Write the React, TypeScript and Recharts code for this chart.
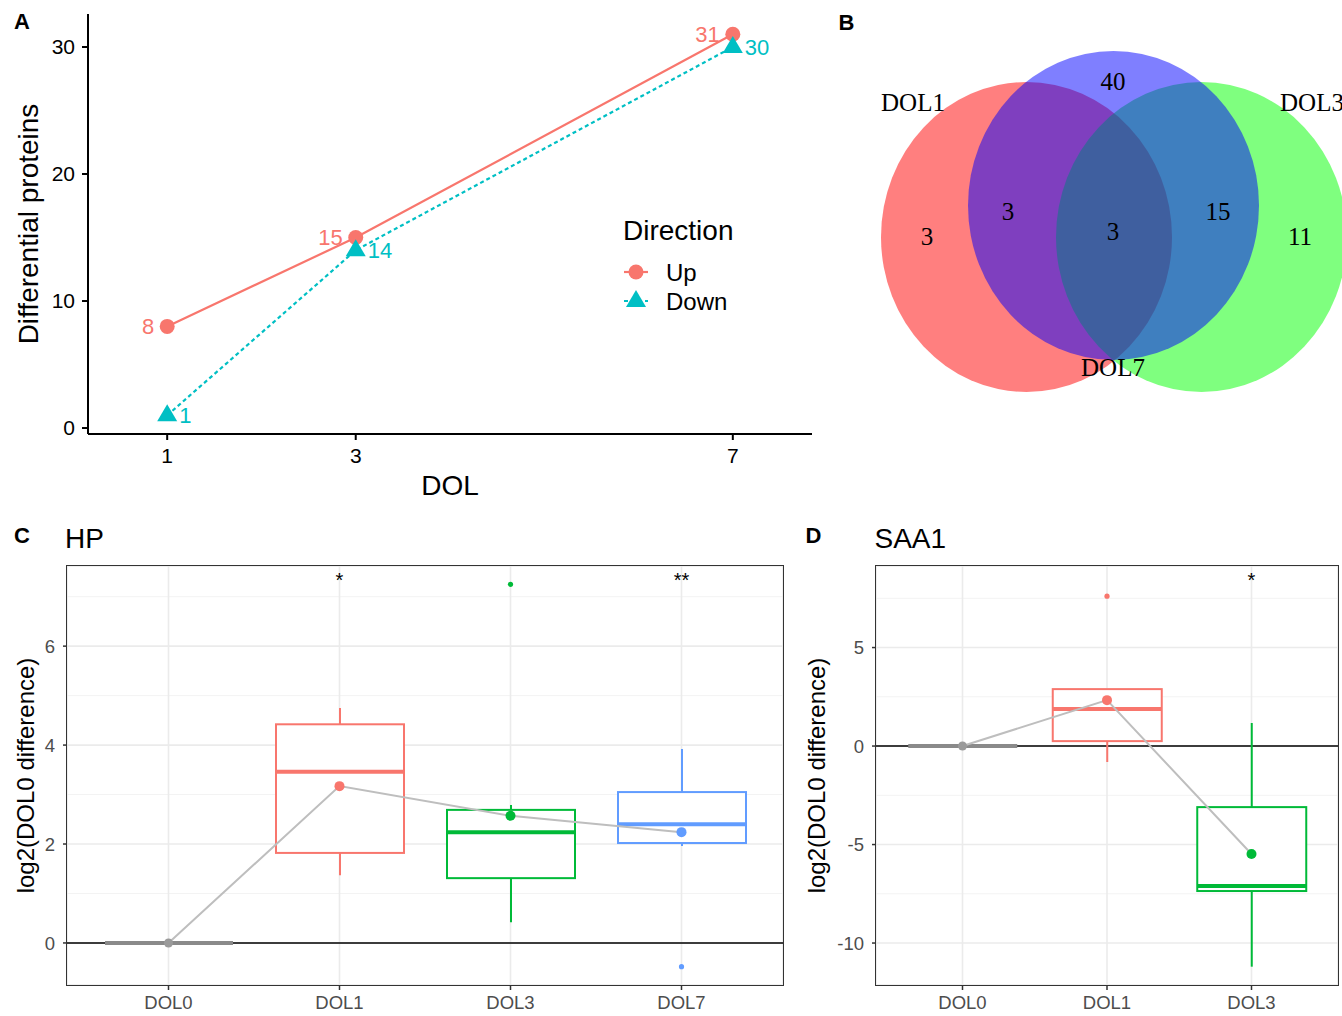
import React from "react";
import {
  Bar,
  CartesianGrid,
  ComposedChart,
  LabelList,
  Legend,
  Line,
  LineChart,
  Scatter,
  ScatterChart,
  XAxis,
  YAxis,
} from "recharts";

const SANS = "'Liberation Sans', Arial, Helvetica, sans-serif";
const SERIF = "'Liberation Serif', 'Times New Roman', serif";
const UP = "#F8766D";
const DOWN = "#00BFC4";

// A: differential proteins per day of life
const directions = ["Up", "Down"];
const dolDays = [1, 3, 7];
const upCounts = [8, 15, 31];
const downCounts = [1, 14, 30];
const countTicks = [0, 10, 20, 30];

// B: venn of the three days (layout units = panel pixels)
const vennSets = ["DOL1", "DOL3", "DOL7"];
const vennFill = ["#FF0000", "#00FF00", "#0000FF"];
const vennX = [186.5, 361.5, 273.5];
const vennY = [237, 237, 205.5];
const vennRx = [145.5, 145.5, 145.5];
const vennRy = [155, 155, 154.5];
const vennLabelX = [73, 472, 273];
const vennLabelY = [103, 103, 368];
const vennCounts = [3, 3, 3, 15, 11, 40];
const vennCountX = [87, 168, 273, 378, 460, 273];
const vennCountY = [237, 212, 232, 212, 237, 82];

// C: HP
const hpGroups = ["DOL0", "DOL1", "DOL3", "DOL7"];
const hpLow = [0, 1.37, 0.42, 1.96];
const hpQ1 = [0, 1.82, 1.31, 2.02];
const hpMedian = [0, 3.46, 2.24, 2.4];
const hpQ3 = [0, 4.42, 2.69, 3.05];
const hpHigh = [0, 4.75, 2.79, 3.92];
const hpMean = [0, 3.17, 2.57, 2.24];
const hpOutlier = [null, null, 7.25, -0.48];
const hpSig = ["", "*", "", "**"];
const hpTicks = [0, 2, 4, 6];
const hpMinor = [1, 3, 5, 7];

// D: SAA1
const saaGroups = ["DOL0", "DOL1", "DOL3"];
const saaLow = [0, -0.81, -11.2];
const saaQ1 = [0, 0.25, -7.36];
const saaMedian = [0, 1.88, -7.1];
const saaQ3 = [0, 2.89, -3.1];
const saaHigh = [0, 2.89, 1.17];
const saaMean = [0, 2.33, -5.48];
const saaOutlier = [null, 7.61, null];
const saaSig = ["", "", "*"];
const saaTicks = [-10, -5, 0, 5];
const saaMinor = [-7.5, -2.5, 2.5, 7.5];

const groupColor: Record<string, string> = {
  DOL0: "#8A8A8A",
  DOL1: "#F8766D",
  DOL3: "#00BA38",
  DOL7: "#619CFF",
};

const countRows = dolDays.map((d, i) => ({ dol: d, up: upCounts[i], down: downCounts[i] }));

const vennCircles = vennSets.map((s, i) => ({
  name: s, x: vennX[i], y: vennY[i], rx: vennRx[i], ry: vennRy[i], fill: vennFill[i],
}));
const vennSetLabels = vennSets.map((s, i) => ({ label: s, x: vennLabelX[i], y: vennLabelY[i] }));
const vennCountLabels = vennCounts.map((c, i) => ({ label: String(c), x: vennCountX[i], y: vennCountY[i] }));

function boxRows(groups, low, q1, med, q3, high, mean, outlier, sig, sigLevel) {
  return groups.map((g, i) => ({
    group: g,
    range: [low[i], high[i]],
    low: low[i],
    q1: q1[i],
    median: med[i],
    q3: q3[i],
    high: high[i],
    mean: mean[i],
    outlier: outlier[i],
    sig: sig[i],
    sigY: sig[i] ? sigLevel : null,
  }));
}

const hpRows = boxRows(hpGroups, hpLow, hpQ1, hpMedian, hpQ3, hpHigh, hpMean, hpOutlier, hpSig, 7.42);
const saaRows = boxRows(saaGroups, saaLow, saaQ1, saaMedian, saaQ3, saaHigh, saaMean, saaOutlier, saaSig, 8.63);

function CircleDot(p: any) {
  if (p.cx == null || p.cy == null) return <g key={`c-${p.index}`} />;
  return <circle key={`c-${p.index}`} cx={p.cx} cy={p.cy} r={7.5} fill={UP} />;
}

function TriangleDot(p: any) {
  if (p.cx == null || p.cy == null) return <g key={`t-${p.index}`} />;
  const { cx, cy } = p;
  return (
    <polygon
      key={`t-${p.index}`}
      points={`${cx},${cy - 11} ${cx - 10},${cy + 6} ${cx + 10},${cy + 6}`}
      fill={DOWN}
    />
  );
}

const UpLabel = (p: any) => (
  <text x={p.x - 13} y={p.y} dy="0.35em" textAnchor="end" fill={UP} fontSize={22} fontFamily={SANS}>
    {p.value}
  </text>
);

const DownLabel = (p: any) => (
  <text x={p.x + 12} y={p.y} dy="0.35em" textAnchor="start" fill={DOWN} fontSize={22} fontFamily={SANS}>
    {p.value}
  </text>
);

function DirectionLegend(props: any) {
  const items = [...(props.payload || [])].sort(
    (a: any, b: any) => directions.indexOf(a.value) - directions.indexOf(b.value)
  );
  return (
    <svg width={160} height={110} style={{ display: "block", overflow: "visible" }}>
      <text x={11} y={30} fontSize={28} fontFamily={SANS} fill="#000">Direction</text>
      {items.map((it: any, i: number) => {
        const cy = 62 + i * 29;
        const isUp = it.value === "Up";
        return (
          <g key={it.value}>
            <line x1={12} x2={36} y1={cy} y2={cy} stroke={it.color} strokeWidth={2.2} strokeDasharray={isUp ? undefined : "4 3"} />
            {isUp ? (
              <circle cx={24} cy={cy} r={7.5} fill={it.color} />
            ) : (
              <polygon points={`24,${cy - 11} 14,${cy + 6} 34,${cy + 6}`} fill={it.color} />
            )}
            <text x={54} y={cy + 8.6} fontSize={24} fontFamily={SANS} fill="#000">{it.value}</text>
          </g>
        );
      })}
    </svg>
  );
}

function CountChart() {
  return (
    <LineChart width={840} height={500} data={countRows} margin={{ top: 14, right: 28, bottom: 0, left: 0 }}>
      <XAxis
        dataKey="dol"
        type="number"
        domain={[0.16, 7.84]}
        ticks={dolDays}
        interval={0}
        height={66}
        tickSize={6}
        tickMargin={8}
        axisLine={{ stroke: "#000", strokeWidth: 2 }}
        tickLine={{ stroke: "#000", strokeWidth: 2 }}
        tick={{ fill: "#000", fontSize: 21, fontFamily: SANS }}
      />
      <YAxis
        type="number"
        domain={[-0.47, 32.6]}
        ticks={countTicks}
        interval={0}
        width={88}
        tickSize={6}
        tickMargin={7}
        axisLine={{ stroke: "#000", strokeWidth: 2 }}
        tickLine={{ stroke: "#000", strokeWidth: 2 }}
        tick={{ fill: "#000", fontSize: 21, fontFamily: SANS }}
      />
      <Legend
        content={DirectionLegend}
        layout="horizontal"
        verticalAlign="middle"
        align="center"
        wrapperStyle={{ left: 612, top: 210, width: 160, height: 110 }}
      />
      <Line name="Up" dataKey="up" stroke={UP} strokeWidth={2.2} dot={CircleDot} activeDot={false} isAnimationActive={false}>
        <LabelList dataKey="up" content={UpLabel} />
      </Line>
      <Line
        name="Down"
        dataKey="down"
        stroke={DOWN}
        strokeWidth={2.2}
        strokeDasharray="4 3"
        dot={TriangleDot}
        activeDot={false}
        isAnimationActive={false}
      >
        <LabelList dataKey="down" content={DownLabel} />
      </Line>
    </LineChart>
  );
}

const EllipseShape = (p: any) => (
  <ellipse cx={p.cx} cy={p.cy} rx={p.payload.rx} ry={p.payload.ry} fill={p.payload.fill} fillOpacity={0.5} />
);

const VennText = (p: any) => (
  <text x={p.cx} y={p.cy} dy="0.33em" textAnchor="middle" fontFamily={SERIF} fontSize={25} fill="#000">
    {p.payload.label}
  </text>
);

function VennChart() {
  return (
    <ScatterChart width={502} height={420} margin={{ top: 0, right: 0, bottom: 0, left: 0 }}>
      <XAxis type="number" dataKey="x" domain={[0, 502]} hide />
      <YAxis type="number" dataKey="y" domain={[0, 420]} reversed hide />
      <Scatter data={vennCircles} shape={EllipseShape} isAnimationActive={false} />
      <Scatter data={vennSetLabels} shape={VennText} isAnimationActive={false} />
      <Scatter data={vennCountLabels} shape={VennText} isAnimationActive={false} />
    </ScatterChart>
  );
}

function BoxShape(props: any) {
  const { x, y, width, height, payload } = props;
  const p = payload;
  const top = Math.min(y, y + height);
  const bottom = Math.max(y, y + height);
  const span = p.high - p.low;
  const py = (v: number) => (span === 0 ? top : top + ((p.high - v) / span) * (bottom - top));
  const c = groupColor[p.group];
  const cx = x + width / 2;
  return (
    <g>
      <line x1={cx} x2={cx} y1={py(p.high)} y2={py(p.q3)} stroke={c} strokeWidth={2} />
      <line x1={cx} x2={cx} y1={py(p.q1)} y2={py(p.low)} stroke={c} strokeWidth={2} />
      <rect x={x} y={py(p.q3)} width={width} height={Math.max(0, py(p.q1) - py(p.q3))} fill="#fff" stroke={c} strokeWidth={2} />
      <line x1={x} x2={x + width} y1={py(p.median)} y2={py(p.median)} stroke={c} strokeWidth={4} />
    </g>
  );
}

function MeanDot(p: any) {
  if (p.cx == null || p.cy == null) return <g key={`m-${p.index}`} />;
  const g = p.payload.group;
  return <circle key={`m-${p.index}`} cx={p.cx} cy={p.cy} r={g === "DOL0" ? 4.5 : 5} fill={g === "DOL0" ? "#9A9A9A" : groupColor[g]} />;
}

function OutlierDot(p: any) {
  if (p.cx == null || p.cy == null || p.payload.outlier == null) return <g key={`o-${p.index}`} />;
  return <circle key={`o-${p.index}`} cx={p.cx} cy={p.cy} r={2.6} fill={groupColor[p.payload.group]} />;
}

function SigDot(p: any) {
  if (p.cx == null || p.cy == null || !p.payload.sig) return <g key={`s-${p.index}`} />;
  return (
    <text key={`s-${p.index}`} x={p.cx} y={p.cy + 11} textAnchor="middle" fontSize={20} fontFamily={SANS} fill="#000">
      {p.payload.sig}
    </text>
  );
}

function BoxPanel({ rows, width, yDomain, yTicks, yMinor, yAxisWidth, marginRight, xPad, boxWidth }: any) {
  const tick = { fill: "#4D4D4D", fontSize: 18.5, fontFamily: SANS };
  return (
    <ComposedChart width={width} height={516} data={rows} margin={{ top: 66, right: marginRight, bottom: 0, left: 0 }}>
      <CartesianGrid stroke="#F3F3F3" strokeWidth={1} horizontalValues={yMinor} vertical={false} />
      <CartesianGrid stroke="#EBEBEB" strokeWidth={1.6} />
      <CartesianGrid stroke="#000" strokeWidth={1.6} horizontalValues={[0]} vertical={false} />
      <XAxis
        dataKey="group"
        padding={{ left: xPad, right: xPad }}
        height={31}
        interval={0}
        axisLine={false}
        tickSize={5}
        tickMargin={6}
        tickLine={{ stroke: "#333", strokeWidth: 1.5 }}
        tick={tick}
      />
      <YAxis
        type="number"
        domain={yDomain}
        ticks={yTicks}
        interval={0}
        width={yAxisWidth}
        axisLine={false}
        tickSize={4}
        tickMargin={8}
        tickLine={{ stroke: "#333", strokeWidth: 1.5 }}
        tick={tick}
      />
      <Bar dataKey="range" barSize={boxWidth} shape={BoxShape} isAnimationActive={false} />
      <Line dataKey="mean" stroke="#BEBEBE" strokeWidth={2} dot={MeanDot} activeDot={false} isAnimationActive={false} />
      <Line dataKey="outlier" stroke="none" dot={OutlierDot} activeDot={false} isAnimationActive={false} />
      <Line dataKey="sigY" stroke="none" dot={SigDot} activeDot={false} isAnimationActive={false} />
    </ComposedChart>
  );
}

const frame = (left: number, top: number, w: number, h: number): React.CSSProperties => ({
  position: "absolute",
  left,
  top,
  width: w,
  height: h,
  border: "1.5px solid #333",
  boxSizing: "border-box",
  pointerEvents: "none",
});

export default function App() {
  return (
    <div style={{ position: "absolute", left: 0, top: 0, width: 1342, height: 1016, overflow: "hidden", background: "#fff", fontFamily: SANS }}>
      <div style={{ position: "absolute", left: 0, top: 0 }}>
        <CountChart />
      </div>
      <div style={{ position: "absolute", left: 840, top: 0 }}>
        <VennChart />
      </div>
      <div style={{ position: "absolute", left: 0, top: 500 }}>
        <BoxPanel
          rows={hpRows}
          width={800}
          yDomain={[-0.85, 7.62]}
          yTicks={hpTicks}
          yMinor={hpMinor}
          yAxisWidth={67}
          marginRight={17}
          xPad={16}
          boxWidth={128}
        />
      </div>
      <div style={{ position: "absolute", left: 800, top: 500 }}>
        <BoxPanel
          rows={saaRows}
          width={542}
          yDomain={[-12.13, 9.14]}
          yTicks={saaTicks}
          yMinor={saaMinor}
          yAxisWidth={76}
          marginRight={4}
          xPad={14.25}
          boxWidth={109}
        />
      </div>
      <div style={frame(66, 565, 718, 421)} />
      <div style={frame(875, 565, 464, 421)} />
      <svg width={1342} height={1016} style={{ position: "absolute", left: 0, top: 0, pointerEvents: "none" }}>
        <g fontFamily={SANS} fill="#000">
          <text x={14} y={29} fontSize={22} fontWeight="bold">A</text>
          <text x={838.5} y={30} fontSize={22} fontWeight="bold">B</text>
          <text x={14} y={543} fontSize={22} fontWeight="bold">C</text>
          <text x={805.5} y={543} fontSize={22} fontWeight="bold">D</text>
          <text x={38} y={224} fontSize={28} textAnchor="middle" transform="rotate(-90 38 224)">Differential proteins</text>
          <text x={450} y={495} fontSize={28} textAnchor="middle">DOL</text>
          <text x={65} y={548} fontSize={28}>HP</text>
          <text x={874.5} y={548} fontSize={28}>SAA1</text>
          <text x={34} y={775.5} fontSize={24} textAnchor="middle" transform="rotate(-90 34 775.5)">log2(DOL0 difference)</text>
          <text x={825} y={775.5} fontSize={24} textAnchor="middle" transform="rotate(-90 825 775.5)">log2(DOL0 difference)</text>
        </g>
      </svg>
    </div>
  );
}
